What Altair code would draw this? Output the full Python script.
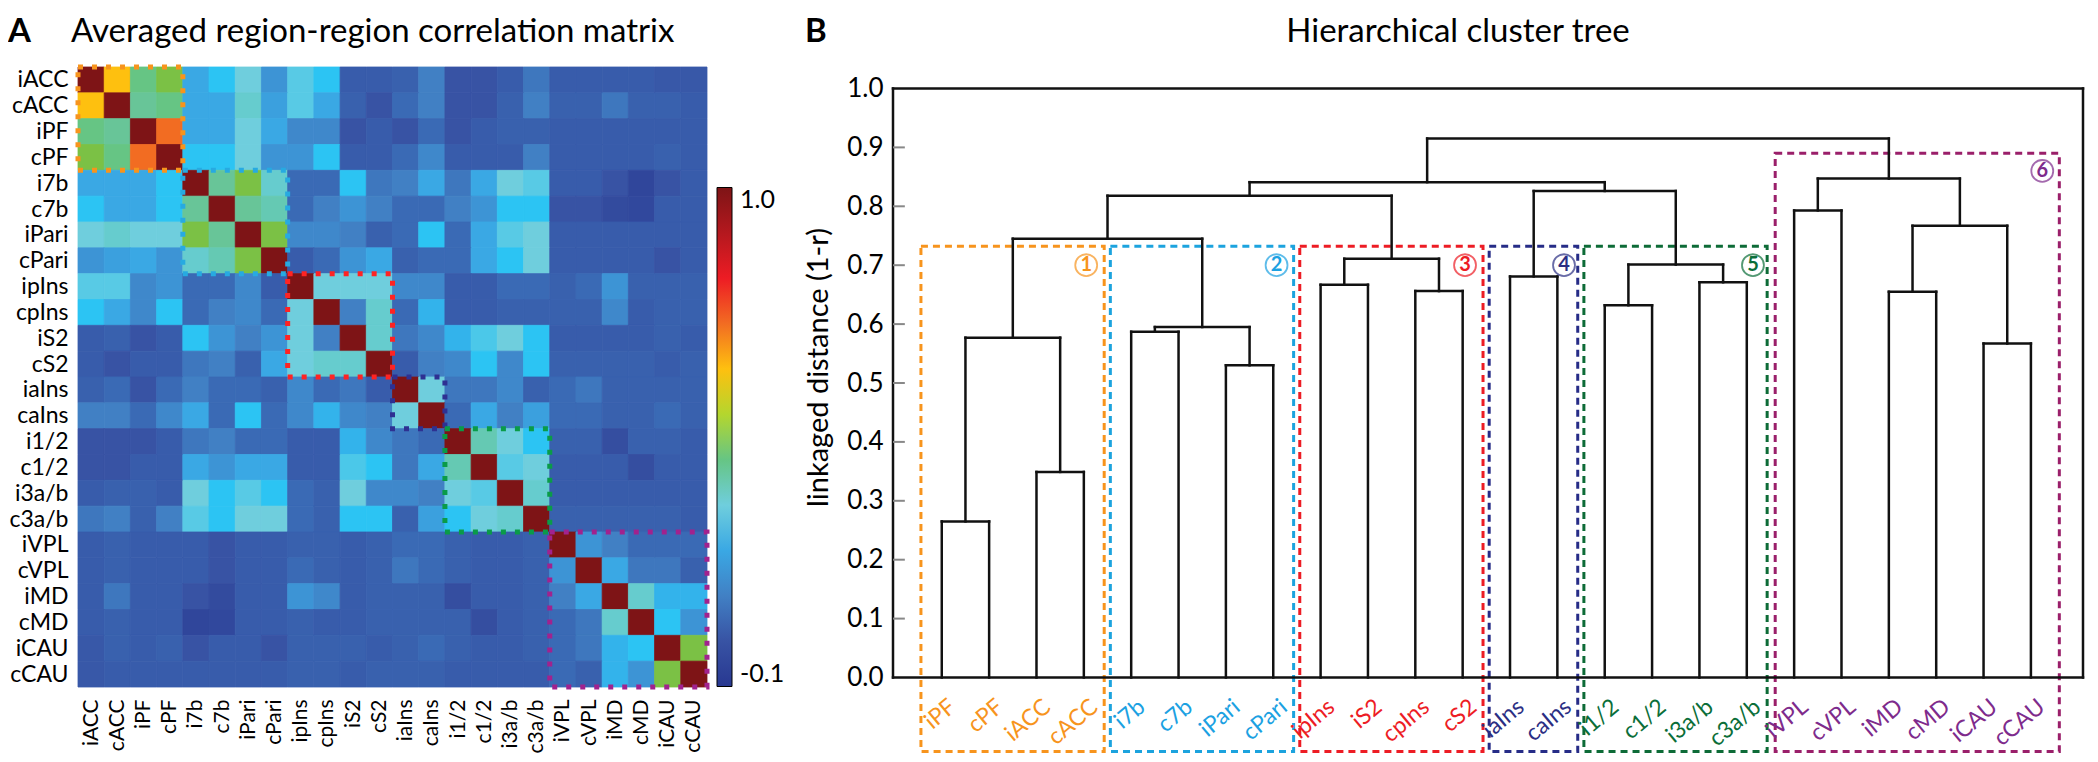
import altair as alt
import pandas as pd

FONT = "Lato"

# ---------------- data ----------------
regions = ['iACC', 'cACC', 'iPF', 'cPF', 'i7b', 'c7b', 'iPari', 'cPari',
           'ipIns', 'cpIns', 'iS2', 'cS2', 'iaIns', 'caIns', 'i1/2', 'c1/2',
           'i3a/b', 'c3a/b', 'iVPL', 'cVPL', 'iMD', 'cMD', 'iCAU', 'cCAU']

# upper triangle of the symmetric correlation matrix (row i, columns i+1..23)
upper = [
    [0.60, 0.40, 0.45, 0.20, 0.25, 0.30, 0.15, 0.28, 0.25, 0.02, 0.02, 0.03, 0.10, 0.00, 0.00, 0.02, 0.08, 0.02, 0.02, 0.02, 0.02, 0.01, 0.01],
    [0.38, 0.40, 0.20, 0.20, 0.32, 0.18, 0.28, 0.20, 0.03, 0.00, 0.05, 0.10, 0.00, 0.00, 0.03, 0.10, 0.03, 0.03, 0.08, 0.03, 0.03, 0.02],
    [0.70, 0.20, 0.20, 0.30, 0.20, 0.12, 0.12, 0.00, 0.02, 0.00, 0.05, 0.00, 0.02, 0.03, 0.03, 0.02, 0.02, 0.02, 0.02, 0.02, 0.02],
    [0.25, 0.25, 0.30, 0.15, 0.15, 0.25, 0.02, 0.02, 0.05, 0.12, 0.02, 0.02, 0.02, 0.10, 0.02, 0.02, 0.02, 0.02, 0.03, 0.02],
    [0.38, 0.45, 0.32, 0.05, 0.05, 0.25, 0.08, 0.10, 0.20, 0.08, 0.20, 0.30, 0.28, 0.02, 0.02, 0.00, -0.05, 0.00, 0.02],
    [0.38, 0.35, 0.05, 0.10, 0.15, 0.10, 0.05, 0.05, 0.10, 0.15, 0.25, 0.25, 0.00, 0.00, -0.03, -0.04, 0.02, 0.02],
    [0.45, 0.12, 0.12, 0.10, 0.03, 0.05, 0.25, 0.05, 0.20, 0.28, 0.30, 0.02, 0.02, 0.02, 0.02, 0.02, 0.02],
    [0.02, 0.05, 0.15, 0.20, 0.03, 0.05, 0.05, 0.20, 0.25, 0.30, 0.02, 0.02, 0.02, 0.02, 0.00, 0.02],
    [0.30, 0.30, 0.30, 0.12, 0.12, 0.02, 0.02, 0.05, 0.05, 0.03, 0.05, 0.15, 0.03, 0.03, 0.03],
    [0.10, 0.32, 0.05, 0.22, 0.02, 0.02, 0.03, 0.03, 0.03, 0.03, 0.12, 0.02, 0.03, 0.03],
    [0.32, 0.08, 0.12, 0.22, 0.27, 0.30, 0.25, 0.02, 0.02, 0.02, 0.02, 0.03, 0.02],
    [0.02, 0.10, 0.12, 0.25, 0.12, 0.25, 0.03, 0.03, 0.03, 0.03, 0.02, 0.03],
    [0.30, 0.08, 0.08, 0.12, 0.03, 0.05, 0.08, 0.03, 0.03, 0.03, 0.03],
    [0.05, 0.20, 0.10, 0.18, 0.05, 0.05, 0.03, 0.03, 0.05, 0.03],
    [0.35, 0.30, 0.25, 0.03, 0.03, -0.02, 0.03, 0.03, 0.02],
    [0.28, 0.30, 0.02, 0.02, 0.02, -0.02, 0.02, 0.02],
    [0.32, 0.02, 0.02, 0.02, 0.02, 0.02, 0.02],
    [0.03, 0.03, 0.03, 0.03, 0.03, 0.02],
    [0.15, 0.10, 0.05, 0.05, 0.05],
    [0.20, 0.08, 0.08, 0.03],
    [0.32, 0.22, 0.22],
    [0.25, 0.15],
    [0.45],
]

# colormap stops (value -> colour)
cmap_values = [-0.1, 0.0, 0.1, 0.2, 0.25, 0.3, 0.37, 0.45, 0.55, 0.6, 0.7, 0.8, 1.0]
cmap_colors = ['#283891', '#3853A4', '#4180C4', '#3AA8E4', '#2CC4F3', '#6FCEDD',
               '#6CC5A0', '#7BC145', '#F5E614', '#FEC00F', '#F26C22', '#ED1C24', '#7E1416']

# cluster blocks on the matrix (start, end index)
hbox_start = [0, 4, 8, 12, 14, 18]
hbox_end = [4, 8, 12, 14, 18, 24]
hbox_colors = ['#F7941D', '#27AAE1', '#FF2323', '#2E3192', '#0A9B48', '#A1228E']

# dendrogram
leaves = ['iPF', 'cPF', 'iACC', 'cACC', 'i7b', 'c7b', 'iPari', 'cPari',
          'ipIns', 'iS2', 'cpIns', 'cS2', 'iaIns', 'caIns', 'i1/2', 'c1/2',
          'i3a/b', 'c3a/b', 'iVPL', 'cVPL', 'iMD', 'cMD', 'iCAU', 'cCAU']
leaf_cluster = [1] * 4 + [2] * 4 + [3] * 4 + [4] * 2 + [5] * 4 + [6] * 6
merge_left = [0, 2, 24, 4, 6, 27, 26, 8, 10, 31, 30, 12, 14, 16, 36, 35, 34, 18, 20, 22, 42, 41, 40]
merge_right = [1, 3, 25, 5, 7, 28, 29, 9, 11, 32, 33, 13, 15, 17, 37, 38, 39, 19, 21, 23, 43, 44, 45]
merge_height = [0.265, 0.349, 0.577, 0.587, 0.530, 0.595, 0.745, 0.667, 0.656, 0.711, 0.818,
                0.681, 0.632, 0.671, 0.701, 0.826, 0.841, 0.793, 0.655, 0.567, 0.767, 0.847, 0.915]

label_colors = ['#F7941D', '#1BA1E2', '#ED1C24', '#2B2E83', '#0B6E39', '#7E2B8C']
dbox_colors = ['#F7941D', '#1CA3DE', '#ED1C24', '#262C87', '#0D6B37', '#9A1F6A']
dbox_left = [-0.44, 3.56, 7.56, 11.56, 13.56, 17.6]
dbox_right = [3.43, 7.43, 11.43, 13.43, 17.43, 23.6]
dbox_top = [0.732, 0.732, 0.732, 0.732, 0.732, 0.89]
dbox_bottom = -0.1256
circ_x = [3.05, 7.07, 11.05, 13.14, 17.13, 23.24]
circ_y = [0.70, 0.70, 0.70, 0.70, 0.70, 0.86]
circ_num = ['1', '2', '3', '4', '5', '6']

y_ticks = [0.0, 0.1, 0.2, 0.3, 0.4, 0.5, 0.6, 0.7, 0.8, 0.9, 1.0]

# ---------------- tables ----------------
n = len(regions)
M = [[1.0] * n for _ in range(n)]
for i, row in enumerate(upper):
    for k, v in enumerate(row):
        j = i + 1 + k
        M[i][j] = v
        M[j][i] = v
heat_df = pd.DataFrame([dict(r=i, r1=i + 1, c=j, c1=j + 1, v=M[i][j])
                        for i in range(n) for j in range(n)])
hbox_df = pd.DataFrame(dict(a=hbox_start, b=hbox_end, col=hbox_colors))

pos = {i: float(i) for i in range(len(leaves))}
hgt = {i: 0.0 for i in range(len(leaves))}
segs = []
for k, (a, b, h) in enumerate(zip(merge_left, merge_right, merge_height)):
    for ch in (a, b):
        segs.append(dict(x=pos[ch], x2=pos[ch], y=hgt[ch], y2=h))
    segs.append(dict(x=pos[a], x2=pos[b], y=h, y2=h))
    pos[len(leaves) + k] = (pos[a] + pos[b]) / 2
    hgt[len(leaves) + k] = h
seg_df = pd.DataFrame(segs)

XD = [-1.03, 24.1]
YD = [-9.5 / 589, 1 + 21.5 / 589]
frame_df = pd.DataFrame([
    dict(x=XD[0], x2=XD[1], y=1.0, y2=1.0),
    dict(x=XD[0], x2=XD[1], y=0.0, y2=0.0),
    dict(x=XD[0], x2=XD[0], y=0.0, y2=1.0),
    dict(x=XD[1], x2=XD[1], y=0.0, y2=1.0),
])
tick_df = pd.DataFrame(dict(y=y_ticks[1:-1], x=[XD[0]] * 9, x2=[XD[0] + 0.25] * 9))
leaf_df = pd.DataFrame(dict(name=leaves, i=list(range(len(leaves))),
                            col=[label_colors[c - 1] for c in leaf_cluster]))
dbox_df = pd.DataFrame(dict(a=dbox_left, b=dbox_right, t=dbox_top,
                            bt=[dbox_bottom] * 6, col=dbox_colors))
circ_df = pd.DataFrame(dict(x=circ_x, y=circ_y, t=circ_num, col=label_colors))

# ---------------- left panel ----------------
W_L, H = 629, 620
TOP = -59       # top edge of the drawing, relative to the plot areas
TBASE = -25.5   # baseline of panel titles
TFS = 33
label_expr = "[" + ",".join("'%s'" % s for s in regions) + "][floor(datum.value)]"
centers = [i + 0.5 for i in range(n)]
xs = alt.Scale(domain=[0, n], nice=False, zero=False)
ys = alt.Scale(domain=[0, n], nice=False, zero=False, reverse=True)
cscale = alt.Scale(domain=cmap_values, range=cmap_colors)

ax_hx = alt.Axis(values=centers, labelExpr=label_expr, labelAngle=270, labelFontSize=21,
                 labelFont=FONT, labelColor='black', ticks=False, domain=False, grid=False,
                 labelPadding=12, title=None, labelOverlap=False, labelFlush=False)
ax_hy = alt.Axis(values=centers, labelExpr=label_expr, labelFontSize=23, labelFont=FONT,
                 labelColor='black', ticks=False, domain=False, grid=False, labelPadding=10,
                 title=None, labelOverlap=False, labelFlush=False)

heat = alt.Chart(heat_df).mark_rect(strokeWidth=0.8).encode(
    x=alt.X('c:Q', scale=xs, axis=ax_hx),
    x2='c1:Q',
    y=alt.Y('r:Q', scale=ys, axis=ax_hy),
    y2='r1:Q',
    color=alt.Color('v:Q', scale=cscale,
                    legend=alt.Legend(
                        orient='none', legendX=639, legendY=120.5, direction='vertical',
                        gradientLength=499, gradientThickness=15, title=None,
                        values=[-0.1, 1.0],
                        labelExpr="replace(format(datum.value, '.1f'), '\u2212', '-')",
                        labelFontSize=25, labelFont=FONT, labelColor='black',
                        gradientStrokeColor='black', gradientStrokeWidth=1,
                        labelOffset=8, padding=0)),
    stroke=alt.Stroke('v:Q', scale=cscale, legend=None),
)

hbox = alt.Chart(hbox_df).mark_rect(fillOpacity=0, strokeWidth=5, strokeDash=[5, 9]).encode(
    x=alt.X('a:Q', scale=xs, axis=ax_hx), x2='b:Q',
    y=alt.Y('a:Q', scale=ys, axis=ax_hy), y2='b:Q',
    stroke=alt.Stroke('col:N', scale=None),
)

anchor = alt.Chart(pd.DataFrame(dict(t=['']))).mark_rule(opacity=0, strokeWidth=0).encode(
    x=alt.value(0), x2=alt.value(20), y=alt.value(TOP))

letterA = alt.Chart(pd.DataFrame(dict(t=['A']))).mark_text(
    font=FONT, fontSize=TFS, fontWeight='bold', align='left', baseline='alphabetic', color='black'
).encode(x=alt.value(-70), y=alt.value(TBASE), text='t:N')
titleA = alt.Chart(pd.DataFrame(dict(t=['Averaged region-region correlation matrix']))).mark_text(
    font=FONT, fontSize=TFS, align='left', baseline='alphabetic', color='black'
).encode(x=alt.value(-7), y=alt.value(TBASE), text='t:N')

left = alt.layer(heat, hbox, anchor, letterA, titleA).resolve_scale(stroke='independent').properties(
    width=W_L, height=H)

# ---------------- right panel ----------------
W_R = 1190
xr = alt.Scale(domain=XD, nice=False, zero=False)
yr = alt.Scale(domain=YD, nice=False, zero=False)

ax_dy = alt.Axis(values=y_ticks, format='.1f', domain=False, ticks=False, grid=False,
                 labelFontSize=26, labelFont=FONT, labelColor='black', labelPadding=10,
                 title='linkaged distance (1-r)', titleFont=FONT, titleFontSize=29,
                 titleFontWeight='normal', titleColor='black', titlePadding=13, titleY=300)

dend = alt.Chart(seg_df).mark_rule(color='#111111', strokeWidth=2.5, strokeCap='square').encode(
    x=alt.X('x:Q', scale=xr, axis=None), x2='x2:Q',
    y=alt.Y('y:Q', scale=yr, axis=ax_dy), y2='y2:Q',
)
frame = alt.Chart(frame_df).mark_rule(color='#111111', strokeWidth=2.5, strokeCap='square').encode(
    x=alt.X('x:Q', scale=xr, axis=None), x2='x2:Q',
    y=alt.Y('y:Q', scale=yr, axis=ax_dy), y2='y2:Q',
)
ticks = alt.Chart(tick_df).mark_rule(color='#888888', strokeWidth=2).encode(
    x=alt.X('x:Q', scale=xr, axis=None), x2='x2:Q',
    y=alt.Y('y:Q', scale=yr, axis=ax_dy),
)
dbox = alt.Chart(dbox_df).mark_rect(fillOpacity=0, strokeWidth=3, strokeDash=[7, 5]).encode(
    x=alt.X('a:Q', scale=xr, axis=None), x2='b:Q',
    y=alt.Y('t:Q', scale=yr, axis=ax_dy), y2='bt:Q',
    stroke=alt.Stroke('col:N', scale=None),
)
leaf_text = alt.Chart(leaf_df).transform_calculate(lx='datum.i + 0.232').mark_text(
    font=FONT, fontSize=23, angle=320, align='right', baseline='middle'
).encode(
    x=alt.X('lx:Q', scale=xr, axis=None), y=alt.value(637),
    text='name:N', color=alt.Color('col:N', scale=None),
)
circ = alt.Chart(circ_df).mark_point(shape='circle', filled=False, size=480, strokeWidth=1.8).encode(
    x=alt.X('x:Q', scale=xr, axis=None), y=alt.Y('y:Q', scale=yr, axis=ax_dy),
    stroke=alt.Stroke('col:N', scale=None),
)
circ_t = alt.Chart(circ_df).mark_text(font=FONT, fontSize=20, fontWeight='bold', baseline='middle',
                                      align='center').encode(
    x=alt.X('x:Q', scale=xr, axis=None), y=alt.Y('y:Q', scale=yr, axis=ax_dy),
    text='t:N', color=alt.Color('col:N', scale=None),
)
letterB = alt.Chart(pd.DataFrame(dict(t=['B']))).mark_text(
    font=FONT, fontSize=TFS, fontWeight='bold', align='left', baseline='alphabetic', color='black'
).encode(x=alt.value(-88), y=alt.value(TBASE), text='t:N')
titleB = alt.Chart(pd.DataFrame(dict(t=['Hierarchical cluster tree']))).mark_text(
    font=FONT, fontSize=TFS, align='center', baseline='alphabetic', color='black'
).encode(x=alt.value(565), y=alt.value(TBASE), text='t:N')

right = alt.layer(dbox, dend, frame, ticks, leaf_text, circ, circ_t, letterB, titleB).properties(
    width=W_R, height=H)

chart = alt.hconcat(left, right, spacing=186, bounds='flush').properties(
    padding=0, background='white'
).configure_view(stroke=None)

chart.save("out.html", embed_options={"renderer": "svg", "actions": False})
